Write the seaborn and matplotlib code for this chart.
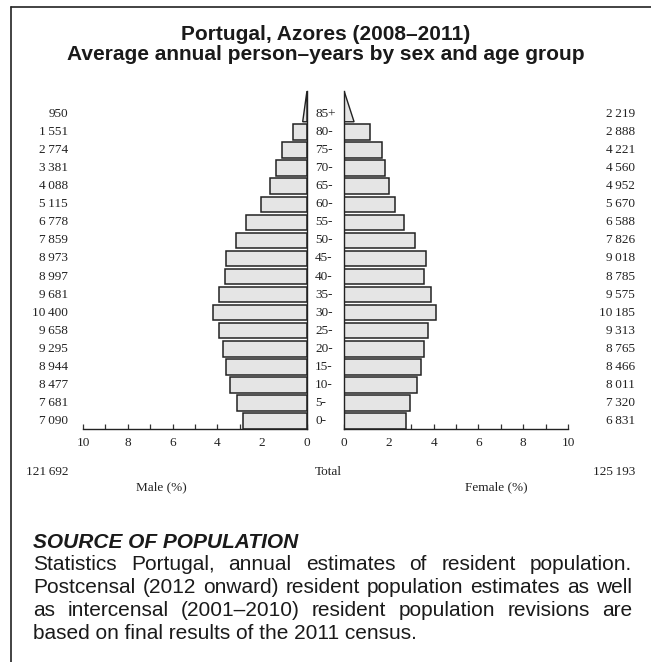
import matplotlib
matplotlib.use("Agg")
import matplotlib.pyplot as plt
import seaborn as sns
import pandas as pd
from matplotlib.patches import Polygon
from matplotlib.transforms import blended_transform_factory
from matplotlib.lines import Line2D

# ---------------- data ----------------
ages = ["85+", "80-", "75-", "70-", "65-", "60-", "55-", "50-", "45-",
        "40-", "35-", "30-", "25-", "20-", "15-", "10-", "5-", "0-"]
male = [950, 1551, 2774, 3381, 4088, 5115, 6778, 7859, 8973,
        8997, 9681, 10400, 9658, 9295, 8944, 8477, 7681, 7090]
female = [2219, 2888, 4221, 4560, 4952, 5670, 6588, 7826, 9018,
          8785, 9575, 10185, 9313, 8765, 8466, 8011, 7320, 6831]
male_total = 121692
female_total = 125193
open_age = "85+"
x_ticks = [0, 2, 4, 6, 8, 10]
title_lines = ["Portugal, Azores (2008\u20132011)",
               "Average annual person\u2013years by sex and age group"]
source_head = "SOURCE OF POPULATION"
source_lines = [
    "Statistics Portugal, annual estimates of resident population.",
    "Postcensal (2012 onward) resident population estimates as well",
    "as intercensal (2001\u20132010) resident population revisions are",
    "based on final results of the 2011 census.",
]

# ---------------- style ----------------
sns.set_theme(style="white")
SERIF = ["Liberation Serif", "DejaVu Serif"]
SANS = ["Liberation Sans", "DejaVu Sans"]
plt.rcParams["font.family"] = SERIF
FILL = "#e5e5e5"
EDGE = "#222222"
NUM_FS = 9.5

W, H = 651, 662
fig = plt.figure(figsize=(W / 100, H / 100), dpi=100)

grand = male_total + female_total
df = pd.DataFrame({
    "age": ages,
    "male_pct": [v / grand * 100 for v in male],
    "female_pct": [v / grand * 100 for v in female],
})
body = df[df["age"] != open_age]

BAR_H = 0.86
n = len(ages)
y_bottom = (n - 1) + BAR_H / 2
y_top = BAR_H / 2 - 2 * BAR_H

# axes geometry in pixels
ax_bottom_px = 428.8
ax_top_px = 90.7
male_l, male_r = 83, 307
fem_l, fem_r = 344, 568

def fx(px):
    return px / W

def fy(py):
    return 1 - py / H

axm = fig.add_axes([fx(male_l), fy(ax_bottom_px), fx(male_r - male_l),
                    (ax_bottom_px - ax_top_px) / H])
axf = fig.add_axes([fx(fem_l), fy(ax_bottom_px), fx(fem_r - fem_l),
                    (ax_bottom_px - ax_top_px) / H])

for ax, col in ((axm, "male_pct"), (axf, "female_pct")):
    sns.barplot(data=body, x=col, y="age", order=ages, orient="h", ax=ax,
                color=FILL, saturation=1, edgecolor=EDGE, linewidth=1.1,
                width=BAR_H)
    # open age group drawn as a triangle
    i = ages.index(open_age)
    pct = df.loc[df["age"] == open_age, col].iloc[0]
    tri = Polygon([(0, i + BAR_H / 2), (pct / 2, i + BAR_H / 2),
                   (0, i + BAR_H / 2 - 2 * BAR_H)], closed=True,
                  facecolor=FILL, edgecolor=EDGE, linewidth=1.0)
    ax.add_patch(tri)
    ax.set_ylim(y_bottom, y_top)
    ax.set_xlabel("")
    ax.set_ylabel("")
    ax.set_xticks(x_ticks)
    ax.set_xticks([1, 3, 5, 7, 9], minor=True)
    ax.set_xticklabels([str(t) for t in x_ticks], fontsize=NUM_FS,
                       family=SERIF, color="#222222")
    ax.tick_params(axis="x", which="both", direction="in", length=3.5,
                   width=0.9, color="#333333", pad=6, bottom=True)
    ax.tick_params(axis="y", left=False, right=False, labelleft=False)
    ax.spines["top"].set_visible(False)
    ax.patch.set_alpha(0)
    for s in ax.spines.values():
        s.set_color("#222222")
        s.set_linewidth(1.0)

axm.set_xlim(10, 0)
axf.set_xlim(0, 10)
axm.spines["left"].set_visible(False)
axf.spines["right"].set_visible(False)

# row labels
tm = blended_transform_factory(fig.transFigure, axm.transData)
for i, a in enumerate(ages):
    fig.text(fx(315), i, a, transform=tm, ha="left", va="center",
             fontsize=NUM_FS, family=SERIF, color="#222222")
    fig.text(fx(68), i, f"{male[i]:,}".replace(",", "\u2009"), transform=tm,
             ha="right", va="center", fontsize=NUM_FS, family=SERIF,
             color="#222222")
    fig.text(fx(635), i, f"{female[i]:,}".replace(",", "\u2009"), transform=tm,
             ha="right", va="center", fontsize=NUM_FS, family=SERIF,
             color="#222222")

fig.text(fx(68), fy(472), f"{male_total:,}".replace(",", "\u2009"), ha="right",
         va="center", fontsize=NUM_FS, family=SERIF, color="#222222")
fig.text(fx(315), fy(472), "Total", ha="left", va="center",
         fontsize=NUM_FS, family=SERIF, color="#222222")
fig.text(fx(635), fy(472), f"{female_total:,}".replace(",", "\u2009"), ha="right",
         va="center", fontsize=NUM_FS, family=SERIF, color="#222222")
fig.text(fx(161), fy(487), "Male (%)", ha="center", va="center",
         fontsize=NUM_FS, family=SERIF, color="#222222")
fig.text(fx(496), fy(487), "Female (%)", ha="center", va="center",
         fontsize=NUM_FS, family=SERIF, color="#222222")

# title
fig.text(0.5, fy(40), title_lines[0], ha="center", va="baseline", fontsize=15,
         weight="bold", family=SANS, color="#1a1a1a")
fig.text(0.5, fy(60), title_lines[1], ha="center", va="baseline", fontsize=15,
         weight="bold", family=SANS, color="#1a1a1a")

# frame (left and top edges)
fig.add_artist(Line2D([fx(10.5), fx(10.5)], [0, fy(6.7)], transform=fig.transFigure,
                      color="#222222", linewidth=1.2))
fig.add_artist(Line2D([fx(10.5), 1], [fy(6.7), fy(6.7)], transform=fig.transFigure,
                      color="#222222", linewidth=1.2))

# source text
fig.text(fx(33), fy(548), source_head, ha="left", va="baseline", fontsize=15,
         weight="bold", style="italic", family=SANS, color="#1a1a1a")

renderer = fig.canvas.get_renderer()
x0_px, x1_px = 33, 632
base_y = [570, 593, 616, 639]
for k, line in enumerate(source_lines):
    kw = dict(ha="left", va="baseline", fontsize=15, family=SANS, color="#1a1a1a")
    if k == len(source_lines) - 1:
        fig.text(fx(x0_px), fy(base_y[k]), line, **kw)
        continue
    words = line.split(" ")
    texts = [fig.text(0, fy(base_y[k]), w, **kw) for w in words]
    widths = [t.get_window_extent(renderer).width for t in texts]
    gap = (x1_px - x0_px - sum(widths)) / (len(words) - 1)
    x = x0_px
    for t, w in zip(texts, widths):
        t.set_x(fx(x))
        x += w + gap

fig.savefig("out.png", dpi=100)
